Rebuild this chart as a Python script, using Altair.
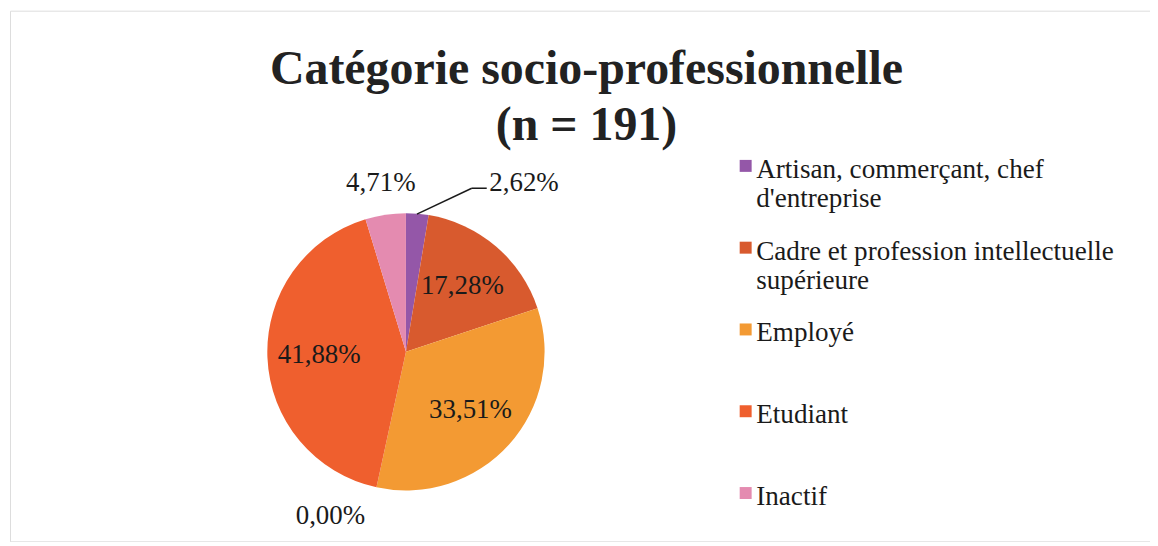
import json
import altair as alt
import pandas as pd

# ---- data ----
categories = [
    "Artisan, commerçant, chef d'entreprise",
    "Cadre et profession intellectuelle supérieure",
    "Employé",
    "Autre",
    "Etudiant",
    "Inactif",
]
values = [2.62, 17.28, 33.51, 0.00, 41.88, 4.71]
value_labels = ["2,62%", "17,28%", "33,51%", "0,00%", "41,88%", "4,71%"]
colors = ["#9457A8", "#D85A2E", "#F39A33", "#8A8A8A", "#EF5F2E", "#E48BB0"]
legend_categories = [
    "Artisan, commerçant, chef d'entreprise",
    "Cadre et profession intellectuelle supérieure",
    "Employé",
    "Etudiant",
    "Inactif",
]
legend_lines = [
    ["Artisan, commerçant, chef", "d'entreprise"],
    ["Cadre et profession intellectuelle", "supérieure"],
    ["Employé"],
    ["Etudiant"],
    ["Inactif"],
]
title_lines = ["Catégorie socio-professionnelle", "(n = 191)"]

df = pd.DataFrame({
    "categorie": categories,
    "valeur": values,
    "etiquette": value_labels,
    "ordre": list(range(len(categories))),
})

# legend label expression (multi-line labels)
expr = "datum.label"
for cat, lines in reversed(list(zip(legend_categories, legend_lines))):
    expr = f"datum.label == {json.dumps(cat)} ? {json.dumps(lines)} : ({expr})"

SERIF = "Liberation Serif"
CX, CY, R = 397, 342, 139

base = alt.Chart(df).encode(
    theta=alt.Theta("valeur:Q", stack=True),
    order=alt.Order("ordre:Q"),
)

pie = base.mark_arc(radius=R, strokeWidth=0).encode(
    x=alt.value(CX),
    y=alt.value(CY),
    color=alt.Color(
        "categorie:N",
        scale=alt.Scale(domain=categories, range=colors),
        sort=categories,
        legend=alt.Legend(
            values=legend_categories,
            title=None,
            orient="none",
            legendX=721,
            legendY=154,
            labelExpr=expr,
            labelFont=SERIF,
            labelFontSize=27.2,
            labelColor="#1a1a1a",
            labelBaseline="alphabetic",
            labelLimit=600,
            labelOffset=0,
            symbolType="M-0.5,-3H1.5V-1H-0.5Z",
            symbolSize=144,
            symbolStrokeWidth=0,
            rowPadding=25,
            gridAlign="all",
            padding=0,
        ),
    ),
)

txt = dict(font=SERIF, fontSize=27, color="#1a1a1a")


def label_layer(test, **kw):
    return base.mark_text(**txt, **kw).encode(
        x=alt.value(CX),
        y=alt.value(CY),
        text=alt.condition(test, "etiquette:N", alt.value("")),
    )


inside = label_layer("datum.valeur >= 10", radius=87)
inactif = label_layer("datum.categorie == 'Inactif'", radius=171)
zero = label_layer("datum.valeur == 0", radius=168, dx=-40)
artisan = label_layer("datum.ordre == 0", radius=175, dx=104, dy=5)

leader1 = alt.Chart(df).mark_rule(color="#1a1a1a", strokeWidth=1.5).encode(
    x=alt.value(408), y=alt.value(204), x2=alt.value(463), y2=alt.value(178)
).transform_filter("datum.ordre == 0")
leader2 = alt.Chart(df).mark_rule(color="#1a1a1a", strokeWidth=1.5).encode(
    x=alt.value(463), y=alt.value(178), x2=alt.value(478), y2=alt.value(178)
).transform_filter("datum.ordre == 0")

title = alt.Chart(df).mark_text(
    text=title_lines,
    font=SERIF,
    fontSize=48,
    fontWeight="bold",
    color="#222222",
    align="center",
    baseline="alphabetic",
    lineHeight=57,
).encode(x=alt.value(578), y=alt.value(73)).transform_filter("datum.ordre == 0")

chart = alt.layer(pie, inside, inactif, zero, artisan, leader1, leader2, title).properties(
    width=1143,
    height=532,
    padding={"left": 2, "top": 2, "right": 0, "bottom": 0},
).configure_view(stroke="#7f9096", strokeWidth=1.5).configure(background="white")

chart.save("out.html", embed_options={"renderer": "svg", "actions": False})
